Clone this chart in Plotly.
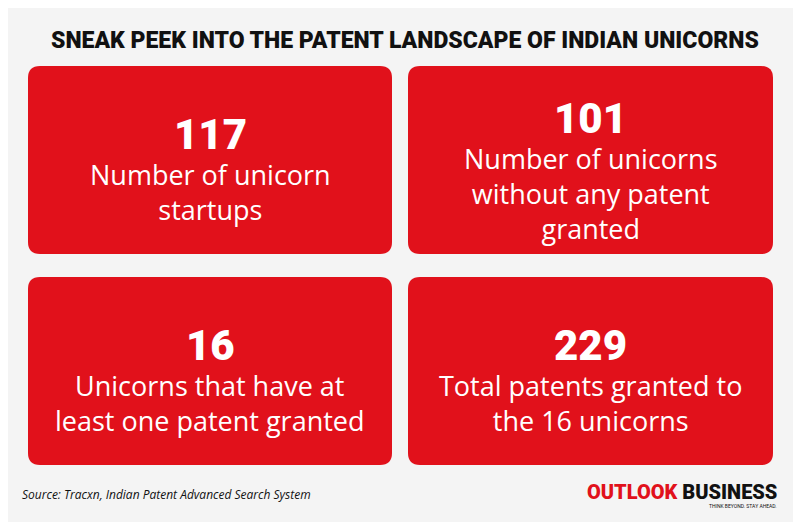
import plotly.graph_objects as go

# infographic content
numbers = ["117", "101", "16", "229"]
labels = [
    "Number of unicorn<br>startups",
    "Number of unicorns<br>without any patent<br>granted",
    "Unicorns that have at<br>least one patent granted",
    "Total patents granted to<br>the 16 unicorns",
]
title = "SNEAK PEEK INTO THE PATENT LANDSCAPE OF INDIAN UNICORNS"
source = "Source: Tracxn, Indian Patent Advanced Search System"

RED = "#e1111b"
BG = "#f4f4f4"
boxes = [(28, 66, 392, 254), (408, 66, 773, 254), (28, 277, 392, 465), (408, 277, 773, 465)]


def rounded(x0, y0, x1, y1, r=12):
    return (f"M{x0+r},{y0} L{x1-r},{y0} Q{x1},{y0} {x1},{y0+r} L{x1},{y1-r} "
            f"Q{x1},{y1} {x1-r},{y1} L{x0+r},{y1} Q{x0},{y1} {x0},{y1-r} "
            f"L{x0},{y0+r} Q{x0},{y0} {x0+r},{y0} Z")


fig = go.Figure()
for (x0, y0, x1, y1), num, lab in zip(boxes, numbers, labels):
    fig.add_shape(type="path", path=rounded(x0, y0, x1, y1), fillcolor=RED,
                  line_width=0, layer="below")
    n = lab.count("<br>") + 1
    cx, cy = (x0 + x1) / 2, (y0 + y1) / 2
    top = cy - (40 + 32 * n) / 2 + 6
    fig.add_annotation(x=cx, y=top + 20, text=num, showarrow=False,
                       font=dict(family="Roboto", size=42, weight=900, color="white"))
    fig.add_annotation(x=cx, y=top + 40, yanchor="top", text=lab, showarrow=False,
                       font=dict(family="Open Sans", size=27, color="white"))

fig.add_annotation(x=405, y=40, text=title, showarrow=False,
                   font=dict(family="Roboto", size=23, weight=900, color="#111"))
fig.add_annotation(x=20, y=494, xanchor="left", text=f"<i>{source}</i>", showarrow=False,
                   font=dict(family="Open Sans", size=12, color="#111"))
fig.add_annotation(x=779, y=492, xanchor="right",
                   text="<span style='color:#e1111b'>OUTLOOK</span> BUSINESS",
                   showarrow=False, font=dict(family="Roboto", size=20, weight=900, color="#111"))
fig.add_annotation(x=779, y=506, xanchor="right", text="THINK BEYOND. STAY AHEAD.",
                   showarrow=False, font=dict(family="Roboto", size=5, color="#111"))

# page body has an 8px margin, so the figure starts at (8, 8)
fig.update_xaxes(range=[8, 801], visible=False)
fig.update_yaxes(range=[522, 8], visible=False)
fig.update_layout(width=793, height=514, margin=dict(l=0, r=0, t=0, b=0),
                  paper_bgcolor=BG, plot_bgcolor=BG, showlegend=False)
fig.write_html("out.html")
